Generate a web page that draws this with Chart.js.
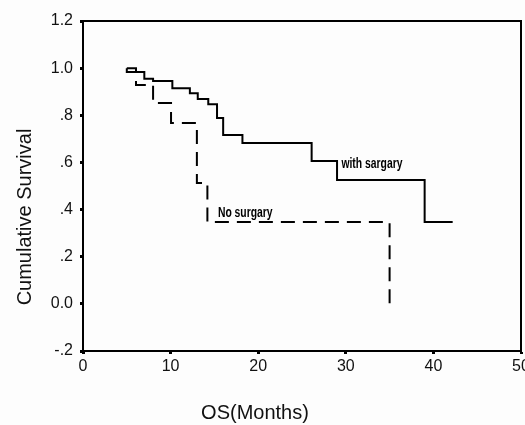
<!DOCTYPE html>
<html>
<head>
<meta charset="utf-8">
<script src="https://cdn.jsdelivr.net/npm/chart.js@4.4.1/dist/chart.umd.min.js"></script>
<style>
  html, body { margin: 0; padding: 0; background: #fdfdfd; }
  #wrap { width: 525px; height: 425px; }
</style>
</head>
<body>
<div id="wrap"><canvas id="km"></canvas></div>
<script>
// Kaplan-Meier curves
var surgMonths = [5, 5, 7, 8, 10.2, 12.2, 13.1, 14.3, 15.3, 16, 18.2, 26.1, 29, 39, 42.2];
var surgSurv   = [1.0, 0.984, 0.955, 0.945, 0.915, 0.894, 0.869, 0.847, 0.788, 0.716, 0.682, 0.606, 0.525, 0.347, 0.347];

var noSurgMonths = [5, 6.05, 8, 10.05, 13, 14.2, 35];
var noSurgSurv   = [1.0, 0.928, 0.852, 0.767, 0.513, 0.347, 0.0];

var yTickLabels = ["-.2", "0.0", ".2", ".4", ".6", ".8", "1.0", "1.2"];
var xTickLabels = ["0", "10", "20", "30", "40", "50"];

// curve captions, placed in data units
var captions = [
  { text: "with sargary", x: 29.5, y: 0.576 },
  { text: "No surgary",   x: 15.4, y: 0.369 }
];

function toPoints(xs, ys) {
  var pts = [];
  for (var i = 0; i < xs.length; i++) pts.push({ x: xs[i], y: ys[i] });
  return pts;
}

// frame, axis titles and curve captions
var extras = {
  id: 'extras',
  afterDraw: function(chart) {
    var ctx = chart.ctx, a = chart.chartArea;
    ctx.save();
    ctx.strokeStyle = '#000';
    ctx.lineWidth = 2;
    ctx.strokeRect(a.left, a.top, a.right - a.left, a.bottom - a.top);

    ctx.fillStyle = '#111';
    ctx.font = '20px "Liberation Sans", Arial, sans-serif';
    ctx.textAlign = 'center';
    ctx.textBaseline = 'middle';
    ctx.fillText('OS(Months)', 255, 413);
    ctx.translate(25, 217);
    ctx.rotate(-Math.PI / 2);
    ctx.fillText('Cumulative Survival', 0, 0);
    ctx.restore();

    // narrow bold captions (squeezed sideways)
    var xs = chart.scales.x, ys = chart.scales.y;
    captions.forEach(function(c) {
      ctx.save();
      ctx.fillStyle = '#000';
      ctx.font = 'bold 14px "Liberation Sans", Arial, sans-serif';
      ctx.textAlign = 'left';
      ctx.textBaseline = 'alphabetic';
      ctx.translate(xs.getPixelForValue(c.x), ys.getPixelForValue(c.y));
      ctx.scale(0.74, 1);
      ctx.fillText(c.text, 0, 0);
      ctx.restore();
    });
  }
};

var tickFont = { family: '"Liberation Sans", Arial, sans-serif', size: 16 };

new Chart(document.getElementById('km'), {
  type: 'line',
  data: {
    datasets: [
      {
        label: 'with sargary',
        data: toPoints(surgMonths, surgSurv),
        stepped: 'before',
        borderColor: '#000',
        borderWidth: 2,
        pointRadius: 0,
        fill: false
      },
      {
        label: 'No surgary',
        data: toPoints(noSurgMonths, noSurgSurv),
        stepped: 'before',
        borderColor: '#000',
        borderWidth: 2,
        borderDash: [14, 8],
        pointRadius: 0,
        fill: false
      }
    ]
  },
  options: {
    responsive: true,
    maintainAspectRatio: false,
    animation: false,
    layout: { padding: { top: 21, right: 4, left: 0, bottom: 0 } },
    plugins: { legend: { display: false }, tooltip: { enabled: false } },
    scales: {
      x: {
        type: 'linear',
        min: 0, max: 50,
        ticks: {
          stepSize: 10,
          color: '#111',
          font: tickFont,
          padding: 3,
          maxRotation: 0,
          callback: function(v, i) { return xTickLabels[i]; }
        },
        grid: { drawOnChartArea: false, drawTicks: true, tickLength: 3, tickWidth: 3, tickColor: '#000' },
        border: { display: true, color: '#000', width: 2 },
        afterFit: function(s) { s.height = 74; s.paddingRight = 0; s.paddingLeft = 0; }
      },
      y: {
        type: 'linear',
        min: -0.2, max: 1.2,
        ticks: {
          stepSize: 0.2,
          color: '#111',
          font: tickFont,
          padding: 7,
          callback: function(v, i) { return yTickLabels[i]; }
        },
        grid: { drawOnChartArea: false, drawTicks: true, tickLength: 3, tickWidth: 3, tickColor: '#000' },
        border: { display: true, color: '#000', width: 2 },
        afterFit: function(s) { s.width = 83; }
      }
    }
  },
  plugins: [extras]
});
</script>
</body>
</html>
